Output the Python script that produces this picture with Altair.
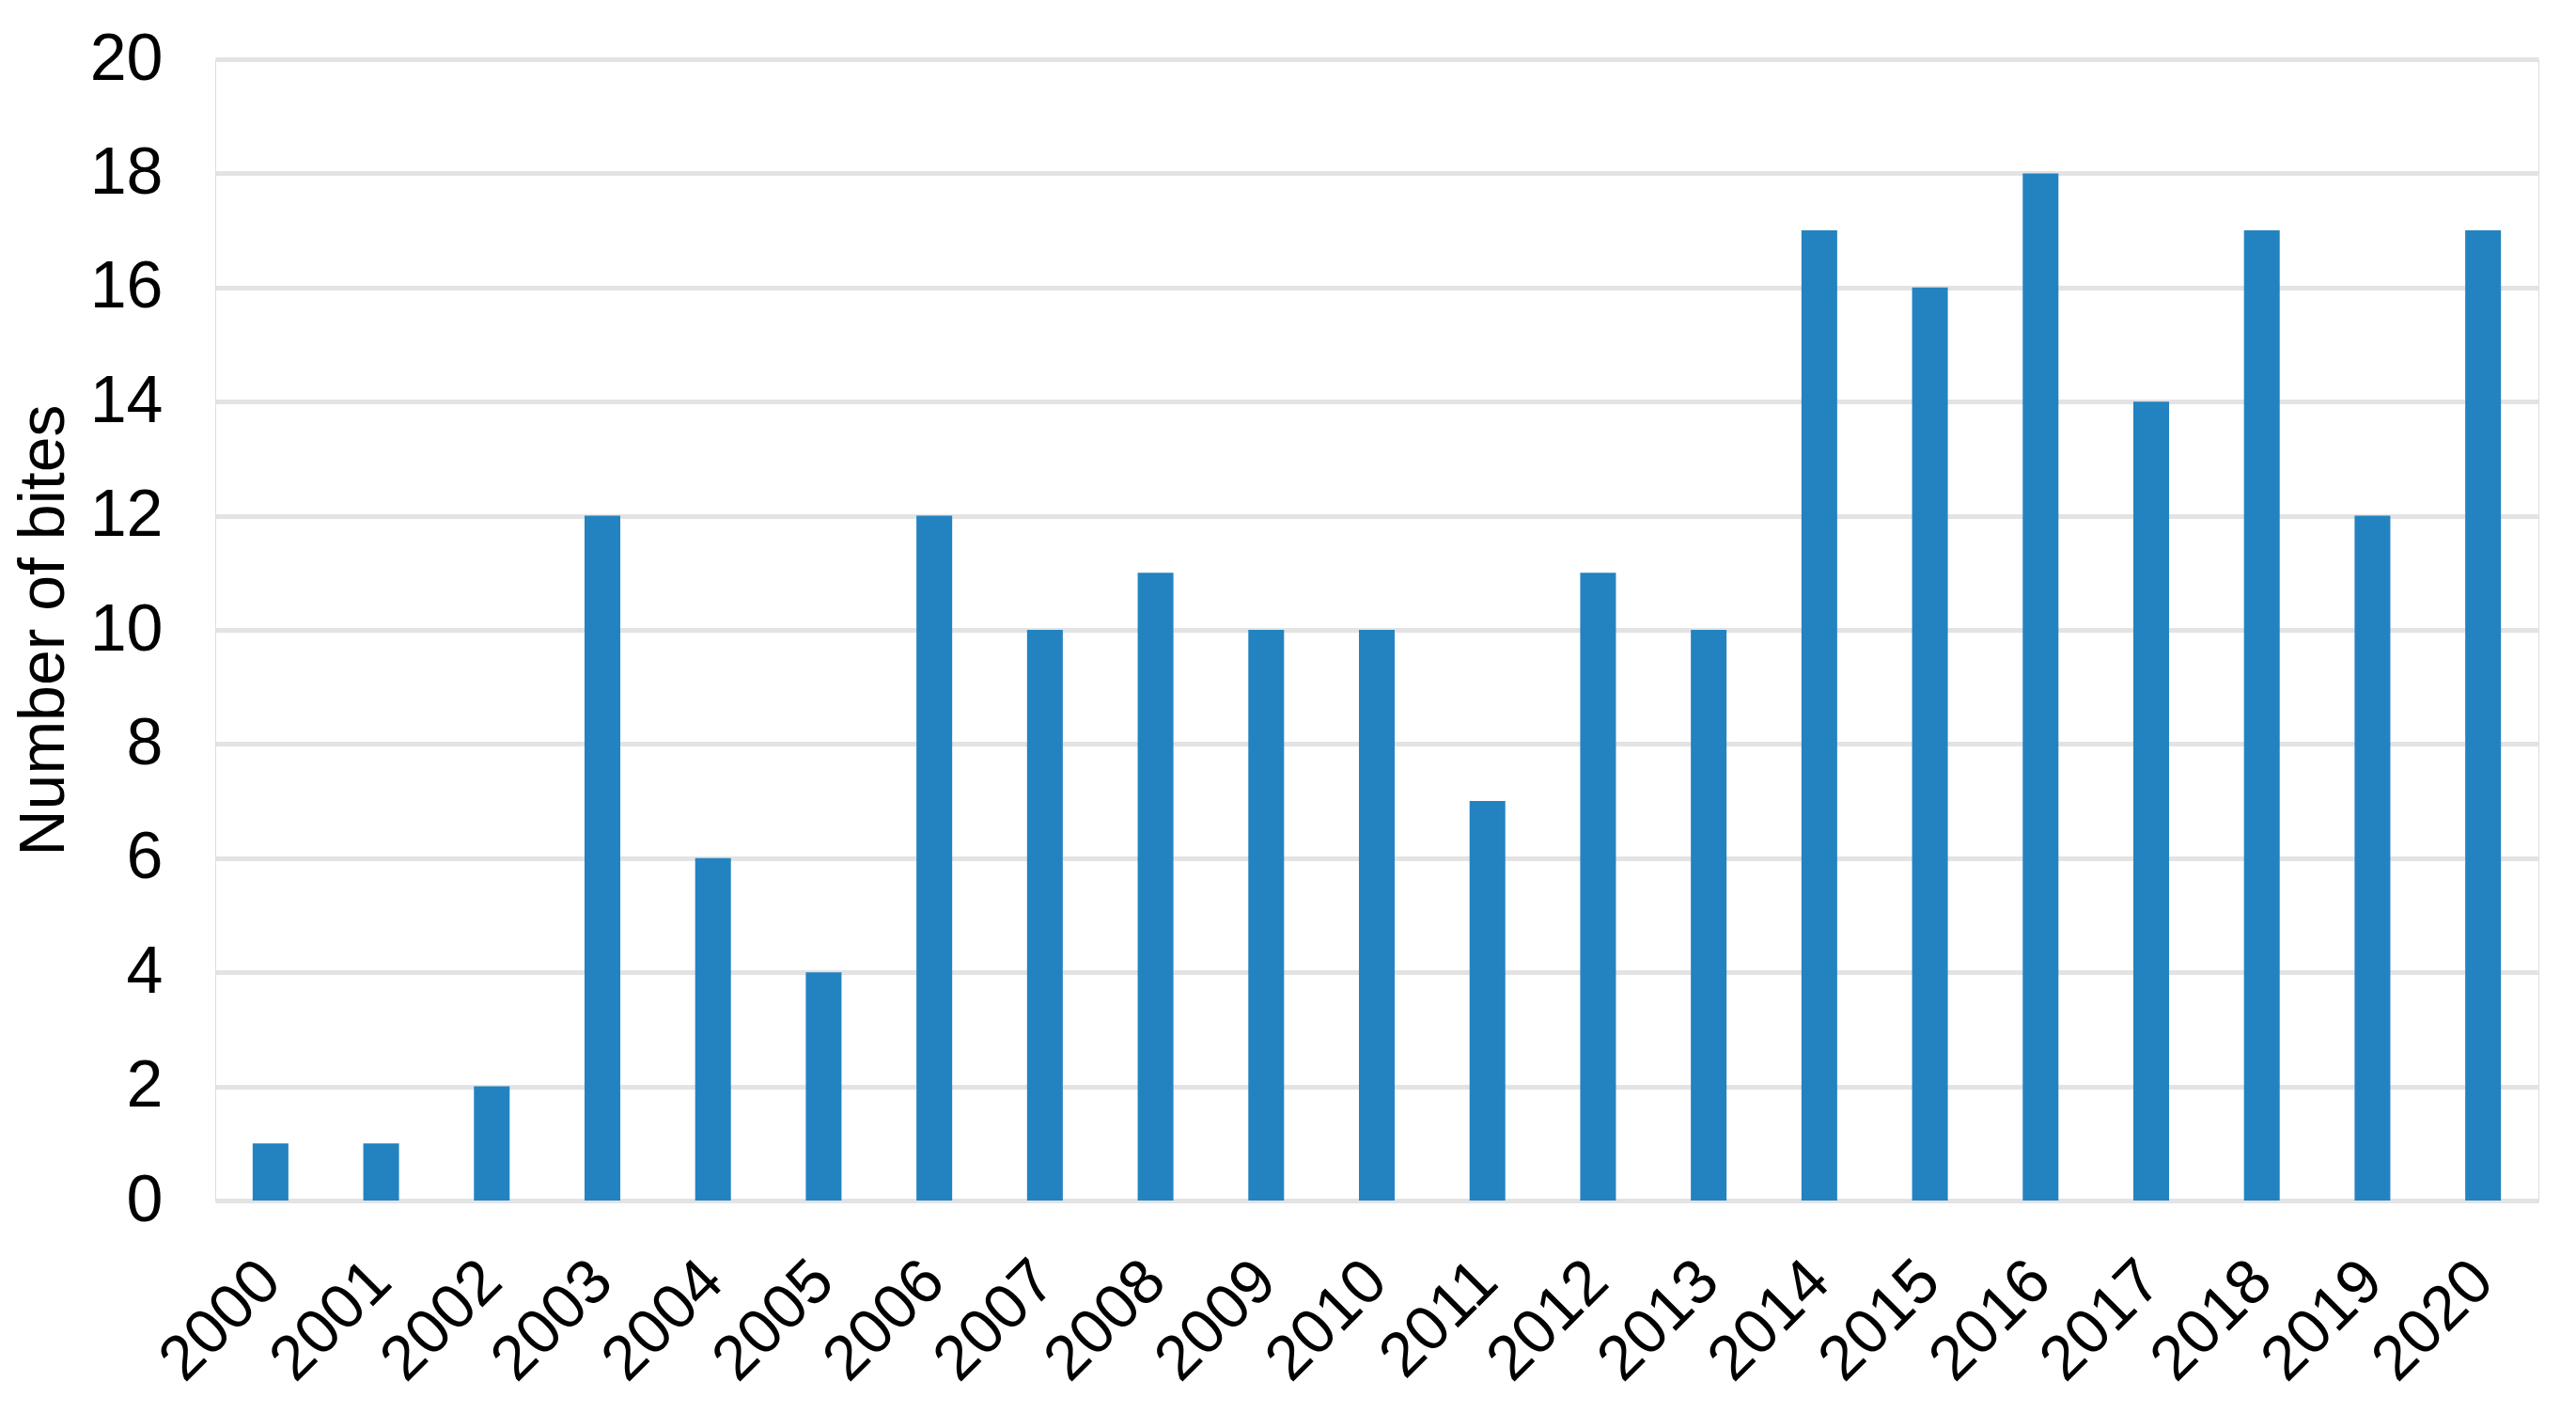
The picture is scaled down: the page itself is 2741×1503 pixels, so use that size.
import altair as alt
import pandas as pd

years = [str(y) for y in range(2000, 2021)]
bites = [1, 1, 2, 12, 6, 4, 12, 10, 11, 10, 10, 7, 11, 10, 17, 16, 18, 14, 17, 12, 17]
y_ticks = [0, 2, 4, 6, 8, 10, 12, 14, 16, 18, 20]

df = pd.DataFrame({"year": years, "bites": bites})

FONT = "Liberation Sans"

chart = (
    alt.Chart(df)
    .mark_bar(color="#2383c1")
    .encode(
        x=alt.X(
            "year:N",
            sort=years,
            title=None,
            scale=alt.Scale(paddingInner=0.677, paddingOuter=0.3385),
            axis=alt.Axis(
                labelAngle=-45,
                labelAlign="right",
                labelBaseline="middle",
                labelFontSize=67,
                labelFont=FONT,
                labelColor="black",
                labelPadding=75,
                ticks=False,
                tickSize=0,
                domain=False,
                grid=False,
            ),
        ),
        y=alt.Y(
            "bites:Q",
            title="Number of bites",
            scale=alt.Scale(domain=[0, 20], nice=False),
            axis=alt.Axis(
                values=y_ticks,
                labelFontSize=70,
                labelFont=FONT,
                labelColor="black",
                labelPadding=56,
                ticks=False,
                tickSize=0,
                domain=False,
                grid=True,
                gridColor="#e3e3e3",
                gridWidth=5,
                titleFont=FONT,
                titleFontSize=68,
                titleFontWeight="normal",
                titleColor="black",
                titleAngle=-90,
                titleAlign="center",
                titleBaseline="alphabetic",
                titleX=-162,
                titleY=607,
            ),
        ),
    )
    .properties(
        width=2472,
        height=1214,
        autosize=alt.AutoSizeParams(type="none"),
        padding={"left": 221, "top": 55, "right": 24, "bottom": 210},
    )
    .configure_view(stroke=None)
    .configure(background="white")
)

chart.save("out.html", embed_options={"renderer": "svg", "actions": False})
